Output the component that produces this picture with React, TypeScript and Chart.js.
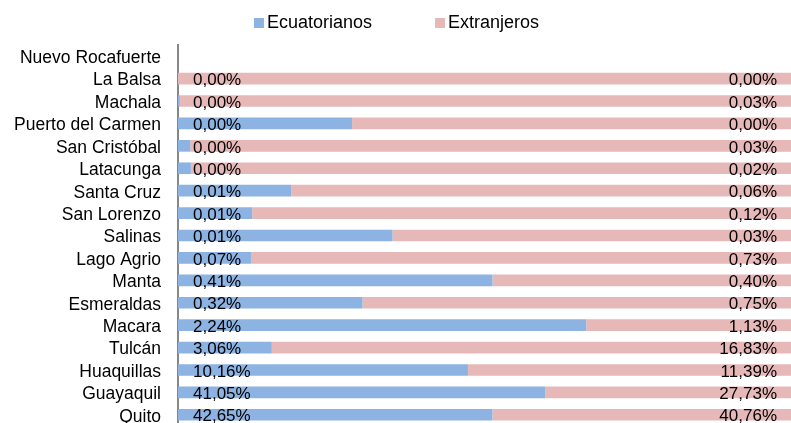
import React, { useEffect, useRef } from "react";
import { Chart, registerables } from "chart.js";

Chart.register(...registerables);

const categories = [
  "Nuevo Rocafuerte", "La Balsa", "Machala", "Puerto del Carmen", "San Cristóbal",
  "Latacunga", "Santa Cruz", "San Lorenzo", "Salinas", "Lago Agrio", "Manta",
  "Esmeraldas", "Macara", "Tulcán", "Huaquillas", "Guayaquil", "Quito",
];

// Share of each row (100% stacked)
const ecuShare = [null, 0, 0.3, 28.4, 2.0, 2.1, 18.5, 12.1, 35.0, 11.9, 51.3, 30.1, 66.6, 15.3, 47.3, 59.9, 51.3];
const extShare = [null, 100, 99.7, 71.6, 98.0, 97.9, 81.5, 87.9, 65.0, 88.1, 48.7, 69.9, 33.4, 84.7, 52.7, 40.1, 48.7];

// Printed labels
const ecuLabels = ["", "0,00%", "0,00%", "0,00%", "0,00%", "0,00%", "0,01%", "0,01%", "0,01%", "0,07%", "0,41%", "0,32%", "2,24%", "3,06%", "10,16%", "41,05%", "42,65%"];
const extLabels = ["", "0,00%", "0,03%", "0,00%", "0,03%", "0,02%", "0,06%", "0,12%", "0,03%", "0,73%", "0,40%", "0,75%", "1,13%", "16,83%", "11,39%", "27,73%", "40,76%"];

const seriesNames = ["Ecuatorianos", "Extranjeros"];
const colors = ["#8DB3E2", "#E6B9B8"];
const FONT = "Liberation Sans, Arial, sans-serif";

const overlayPlugin = {
  id: "overlay",
  afterDatasetsDraw(chart: any) {
    const ctx = chart.ctx;
    const area = chart.chartArea;
    const yScale = chart.scales.y;
    ctx.save();
    ctx.fillStyle = "#000";
    ctx.textBaseline = "middle";
    categories.forEach((cat, i) => {
      const y = yScale.getPixelForValue(i) + 2;
      ctx.font = `17.5px ${FONT}`;
      ctx.textAlign = "right";
      ctx.fillText(cat, area.left - 17, y);
      ctx.font = `17px ${FONT}`;
      if (ecuLabels[i]) {
        ctx.textAlign = "left";
        ctx.fillText(ecuLabels[i], area.left + 15, y);
      }
      if (extLabels[i]) {
        ctx.textAlign = "right";
        ctx.fillText(extLabels[i], area.right - 14, y);
      }
    });
    // legend
    ctx.font = `18px ${FONT}`;
    const box = 10, gap = 3, spacing = 63;
    const widths = seriesNames.map((n) => ctx.measureText(n).width);
    const total = widths.reduce((a, w) => a + box + gap + w, 0) + spacing;
    let x = (chart.width - total) / 2 + 1;
    const ly = 23;
    seriesNames.forEach((n, i) => {
      ctx.fillStyle = colors[i];
      ctx.fillRect(x, ly - box / 2, box, box);
      ctx.fillStyle = "#000";
      ctx.textAlign = "left";
      ctx.fillText(n, x + box + gap, ly);
      x += box + gap + widths[i] + spacing;
    });
    ctx.restore();
  },
};

export default function App() {
  const ref = useRef<HTMLCanvasElement>(null);
  useEffect(() => {
    if (!ref.current) return;
    const chart = new Chart(ref.current, {
      type: "bar",
      data: {
        labels: categories,
        datasets: [
          { label: seriesNames[0], data: ecuShare as any, backgroundColor: colors[0], barPercentage: 0.52, categoryPercentage: 1 },
          { label: seriesNames[1], data: extShare as any, backgroundColor: colors[1], barPercentage: 0.52, categoryPercentage: 1 },
        ],
      },
      options: {
        indexAxis: "y",
        responsive: true,
        maintainAspectRatio: false,
        animation: false,
        layout: { padding: { left: 0, top: 45, right: 0, bottom: 0 } },
        plugins: { legend: { display: false }, tooltip: { enabled: false } },
        scales: {
          x: { stacked: true, min: 0, max: 100, display: false },
          y: {
            stacked: true,
            afterFit: (scale: any) => { scale.width = 178; },
            grid: { display: false, drawTicks: true, tickLength: 17 },
            border: { display: true, color: "#868686", width: 2 },
            ticks: { display: false, font: { family: FONT, size: 17.5 }, autoSkip: false },
          },
        },
      },
      plugins: [overlayPlugin],
    });
    return () => chart.destroy();
  }, []);
  return (
    <div style={{ position: "absolute", left: 0, top: 0, width: 791, height: 423, overflow: "hidden", background: "#fff" }}>
      <div style={{ position: "relative", width: 791, height: 426 }}>
        <canvas ref={ref} />
      </div>
    </div>
  );
}
